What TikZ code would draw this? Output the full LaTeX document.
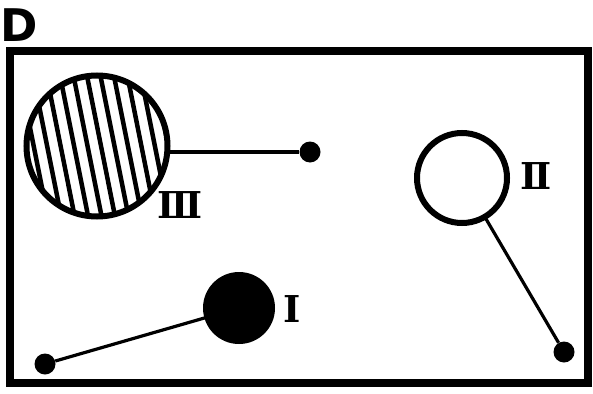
\documentclass[tikz,border=0pt]{standalone}
\usepackage{fontspec}
\usetikzlibrary{calc}
\newfontfamily\labfont{DejaVu Sans}
\newfontfamily\numfont{DejaVu Serif}
\begin{document}
\begin{tikzpicture}[x=1pt,y=-1pt,
  ring/.style={draw=black,line width=6pt},
  link/.style={draw=black,line width=3.2pt},
  enddot/.style={circle,fill=black,inner sep=0pt,minimum size=21pt},
  numlab/.style={font=\numfont\bfseries\fontsize{37}{37}\selectfont,inner sep=0pt},
]
\useasboundingbox (0,0) rectangle (593,393);
% title
\node[font=\labfont\bfseries\fontsize{45}{45}\selectfont,inner sep=0pt] (title) at (19,25) {D};
% frame
\draw[line width=8pt] (10,51) rectangle (588,383);
% circle III (hatched)
\coordinate (c3) at (97,146);
\begin{scope}
  \clip (c3) circle (71);
  \foreach \k in {-6,...,6}{
    \draw[line width=4.5pt] ($(c3)+(\k*13.2*0.981+4,-\k*13.2*0.196)+(-0.196*90,-0.981*90)$) -- ($(c3)+(\k*13.2*0.981+4,-\k*13.2*0.196)+(0.196*90,0.981*90)$);
  }
\end{scope}
\node[circle,ring,minimum size=141pt,inner sep=0pt] (n3) at (c3) {};
\node[enddot] (d3) at (310,152) {};
\draw[link] (n3.east |- d3) ++(-2,0) -- (d3);
\node[numlab] (l3) at (180,205) {Ⅲ};
% circle II (open)
\node[enddot] (d2) at (564,352) {};
\draw[link] (462,178) -- (d2);
\node[circle,ring,minimum size=90pt,inner sep=0pt,fill=white] (n2) at (462,178) {};
\node[numlab] (l2) at (536,176) {Ⅱ};
% circle I (filled)
\node[enddot] (d1) at (45,364) {};
\draw[link] (d1) -- (239,308);
\node[circle,fill=black,minimum size=72pt,inner sep=0pt] (n1) at (239,308) {};
\node[numlab] (l1) at (292,309) {Ⅰ};
\end{tikzpicture}
\end{document}
